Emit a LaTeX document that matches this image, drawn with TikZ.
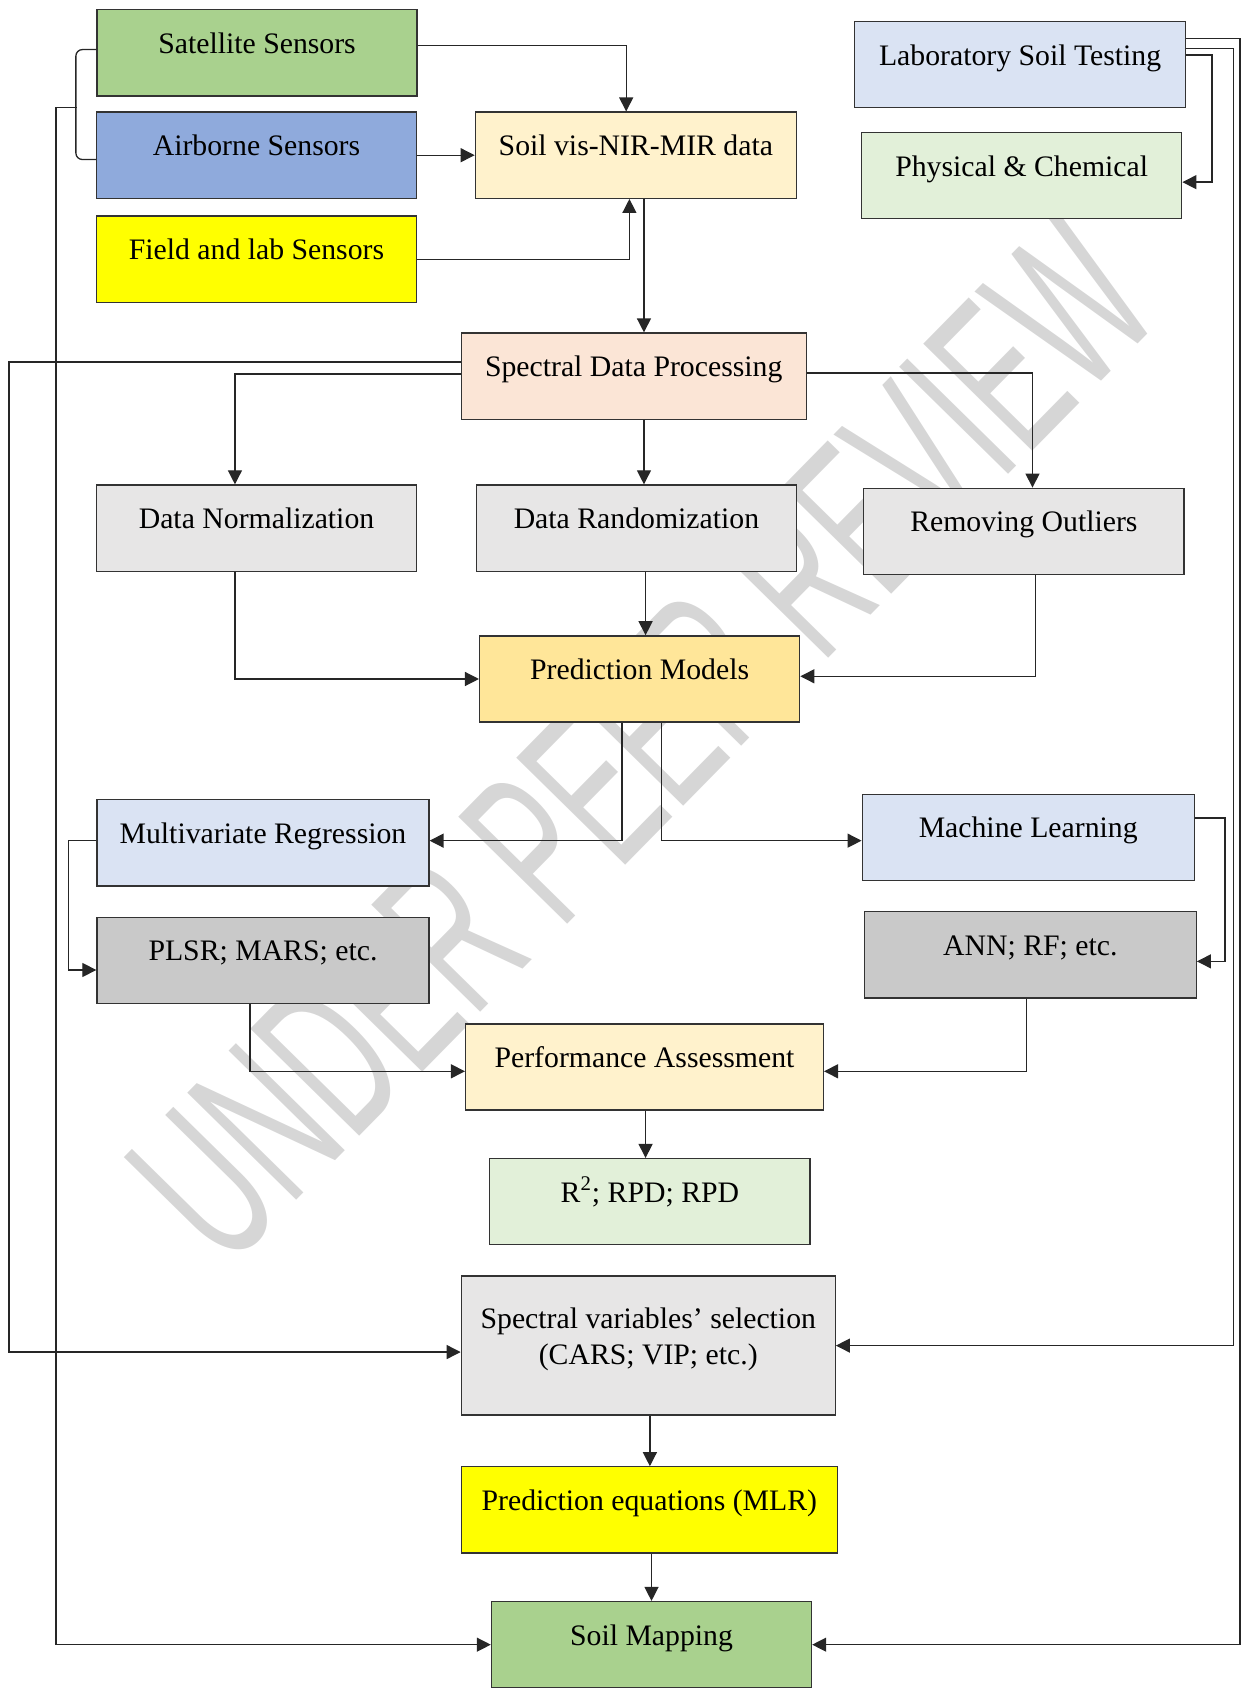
\documentclass[tikz,border=0pt]{standalone}
\usepackage{fontspec}
\setmainfont{Liberation Serif}
\newfontfamily\wmfont{Liberation Sans}
\usetikzlibrary{arrows.meta}

\definecolor{cGreen}{HTML}{A9D18E}
\definecolor{cBlue}{HTML}{8FAADC}
\definecolor{cYellow}{HTML}{FFFF00}
\definecolor{cCream}{HTML}{FFF2CC}
\definecolor{cLightBlue}{HTML}{DAE3F3}
\definecolor{cLightGreen}{HTML}{E2F0D9}
\definecolor{cPeach}{HTML}{FBE5D6}
\definecolor{cGray}{HTML}{E7E6E6}
\definecolor{cGold}{HTML}{FFE699}
\definecolor{cMidGray}{HTML}{C9C9C9}

\begin{document}
\begin{tikzpicture}[x=0.5pt,y=-0.5pt,
  box/.style={draw=black!80, line width=0.6pt, minimum width=148.5pt, minimum height=40pt,
    inner sep=0pt, text height=10pt, text depth=9.5pt, font=\fontsize{13.8pt}{17pt}\selectfont},
  conn/.style={draw=black!85, line width=0.6pt},
  arr/.style={conn, -{Triangle[length=6.5pt,width=6.5pt]}},
  wmark/.style={text=black!16, inner sep=0pt, font=\wmfont\fontsize{103pt}{103pt}\selectfont}]
\useasboundingbox (0,0) rectangle (1152,1569);

%Watermark
\begin{scope}[shift={(596,687)}]
\node[wmark, rotate=45.5, xscale=0.56] (wm) at (0,0) {UNDER PEER REVIEW};
\end{scope}

%Shape: Rectangle -- sensors
\node[box, fill=cGreen] (sat) at (238.5,49) {Satellite Sensors};
\node[box, fill=cBlue] (air) at (238,144) {Airborne Sensors};
\node[box, fill=cYellow] (field) at (238,240.5) {Field and lab Sensors};
%Shape: Rectangle -- data
\node[box, fill=cCream, minimum width=149pt] (vis) at (590,144) {Soil vis-NIR-MIR data};
%Shape: Rectangle -- laboratory
\node[box, fill=cLightBlue, minimum width=153.5pt] (lab) at (946.5,60) {Laboratory Soil Testing};
\node[box, fill=cLightGreen] (phys) at (948,163) {Physical \& Chemical};
%Shape: Rectangle -- processing
\node[box, fill=cPeach, minimum width=160pt] (sdp) at (588,349) {Spectral Data Processing};
\node[box, fill=cGray] (norm) at (238,490) {Data Normalization};
\node[box, fill=cGray] (rand) at (590.5,490) {Data Randomization};
\node[box, fill=cGray] (outl) at (950,493) {Removing Outliers};
%Shape: Rectangle -- models
\node[box, fill=cGold] (pm) at (593.5,630) {Prediction Models};
\node[box, fill=cLightBlue, minimum width=154pt] (mr) at (244,782) {Multivariate Regression};
\node[box, fill=cLightBlue, minimum width=154pt] (ml) at (954,777) {Machine Learning};
\node[box, fill=cMidGray, minimum width=154pt] (plsr) at (244,891) {PLSR; MARS; etc.};
\node[box, fill=cMidGray, minimum width=154pt] (ann) at (956,886) {ANN; RF; etc.};
%Shape: Rectangle -- assessment
\node[box, fill=cCream, minimum width=166pt] (pa) at (598,990) {Performance Assessment};
\node[box, fill=cLightGreen] (r2) at (603,1115) {R\textsuperscript{2}; RPD; RPD};
%Shape: Rectangle -- mapping
\node[box, fill=cGray, minimum width=173.5pt, minimum height=64.5pt, align=center, text height=27.5pt] (svs) at (601.5,1248.5) {Spectral variables’ selection\\(CARS; VIP; etc.)};
\node[box, fill=cYellow, minimum width=174.5pt] (peq) at (602.5,1401) {Prediction equations (MLR)};
\node[box, fill=cGreen] (sm) at (604.5,1526) {Soil Mapping};

%Straight Lines -- sensors to data
\draw[arr] ([yshift=3.5pt]sat.east) -| ([xshift=-4.5pt]vis.north);
\draw[arr] (air.east) -- (vis.west);
\draw[arr] (field.east) -| ([xshift=-3pt]vis.south);
\draw[arr] ([xshift=3.75pt]vis.south) -- ([xshift=3.75pt]vis.south |- sdp.north);
%Straight Lines -- bracket and left return
\draw[conn, rounded corners=3pt] ([yshift=1.5pt]sat.west) -- ++(-9.5pt,0) |- ([yshift=-2pt]air.west);
\coordinate (brk) at (71,100);
\draw[arr] (brk) -- ++(-9.5pt,0) |- (sm.west);
\draw[arr] ([yshift=6.5pt]sdp.west) -- ++(-209.5pt,0) |- ([yshift=-3pt]svs.west);
%Straight Lines -- processing
\draw[arr] ([yshift=1pt]sdp.west) -| ([xshift=-10pt]norm.north);
\draw[arr] ([xshift=3.5pt]rand.north |- sdp.south) -- ([xshift=3.5pt]rand.north);
\draw[arr] ([yshift=1.5pt]sdp.east) -| ([xshift=4pt]outl.north);
\draw[arr] ([xshift=-10pt]norm.south) |- (pm.west);
\draw[arr] ([xshift=2.75pt]pm.north |- rand.south) -- ([xshift=2.75pt]pm.north);
\draw[arr] ([xshift=5.5pt]outl.south) |- ([yshift=1.25pt]pm.east);
%Straight Lines -- models
\draw[arr] ([xshift=-8.25pt]pm.south) |- ([yshift=1pt]mr.east);
\draw[arr] ([xshift=10.25pt]pm.south) |- ([yshift=-1.5pt]ml.west);
\draw[arr] ([yshift=1pt]mr.west) -- ++(-13pt,0) |- ([yshift=-4.5pt]plsr.west);
\draw[arr] ([yshift=9pt]ml.east) -- ++(14pt,0) |- ([yshift=-3pt]ann.east);
\draw[arr] ([xshift=-6pt]plsr.south) |- ([yshift=-2pt]pa.west);
\draw[arr] ([xshift=-1.75pt]ann.south) |- ([yshift=-2pt]pa.east);
\draw[arr] ([xshift=0.5pt]pa.south) -- ([xshift=0.5pt]pa.south |- r2.north);
%Straight Lines -- mapping
\draw[arr] ([xshift=0.75pt]svs.south) -- ([xshift=0.75pt]svs.south |- peq.north);
\draw[arr] (peq.south -| sm.north) -- (sm.north);
%Straight Lines -- laboratory
\draw[arr] ([yshift=4.5pt]lab.east) -- ++(12pt,0) |- ([yshift=-3pt]phys.east);
\draw[arr] ([yshift=7.5pt]lab.east) -- ++(22pt,0) |- (svs.east);
\draw[arr] ([yshift=12pt]lab.east) -- ++(25pt,0) |- (sm.east);

\end{tikzpicture}
\end{document}
